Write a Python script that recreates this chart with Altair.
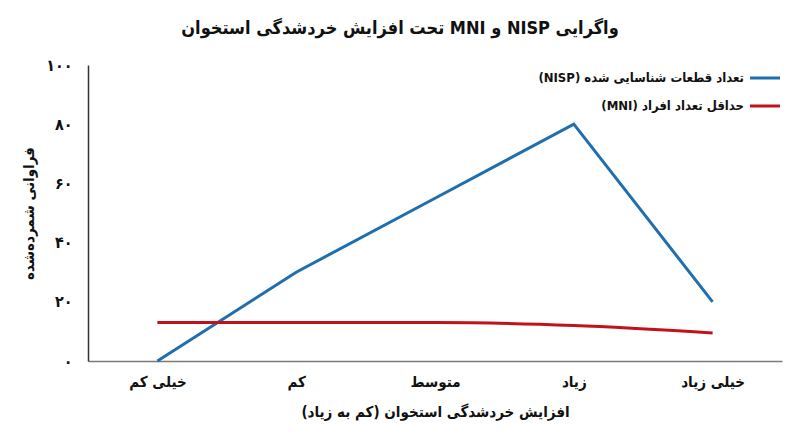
import altair as alt
import pandas as pd

# داده‌ها
categories = ['خیلی کم', 'کم', 'متوسط', 'زیاد', 'خیلی زیاد']
nisp_values = [0, 30, 55, 80, 20]
mni_values = [13, 13, 13, 12, 9.5]
series_names = ['تعداد قطعات شناسایی شده (NISP)', 'حداقل تعداد افراد (MNI)']
series_colors = ['#1f6fae', '#c0121a']
y_ticks = [0, 20, 40, 60, 80, 100]
y_tick_labels = ['۰', '۲۰', '۴۰', '۶۰', '۸۰', '۱۰۰']

FONT = 'DejaVu Sans Condensed'
TEXT_COLOR = '#111111'


def rtl(s):
    # right-to-left embedding so mixed Persian/Latin text reads correctly
    return '\u202b' + s + '\u202c'


df = pd.DataFrame({
    'category': categories * 2,
    'value': nisp_values + mni_values,
    'series': [series_names[0]] * len(categories) + [series_names[1]] * len(categories),
})

label_expr = ' : '.join(
    f"datum.value == {v} ? '{lab}'" for v, lab in zip(y_ticks, y_tick_labels)
) + " : datum.label"

x_enc = alt.X(
    'category:N',
    sort=categories,
    scale=alt.Scale(type='point', padding=0.5),
    title=rtl('افزایش خردشدگی استخوان (کم به زیاد)'),
    axis=alt.Axis(
        labelAngle=0, ticks=False, labelPadding=13, titlePadding=15,
        labelFontSize=15, labelFontWeight='bold', labelFont=FONT, labelColor=TEXT_COLOR,
        titleFontSize=15, titleFontWeight='bold', titleFont=FONT, titleColor=TEXT_COLOR,
        domainColor='#7a7a7a', domainWidth=1.5, grid=False,
    ),
)
y_enc = alt.Y(
    'value:Q',
    scale=alt.Scale(domain=[0, 100], nice=False),
    title='فراوانی شمرده‌شده',
    axis=alt.Axis(
        values=y_ticks, labelExpr=label_expr, ticks=False, labelPadding=16, titlePadding=9,
        labelFontSize=16, labelFontWeight='bold', labelFont=FONT, labelColor=TEXT_COLOR,
        titleFontSize=15, titleFontWeight='bold', titleFont=FONT, titleColor=TEXT_COLOR,
        domainColor='#333333', domainWidth=1.5, grid=False,
    ),
)

nisp_line = alt.Chart(df).transform_filter(
    alt.datum.series == series_names[0]
).mark_line(color=series_colors[0], strokeWidth=3).encode(x=x_enc, y=y_enc)

mni_line = alt.Chart(df).transform_filter(
    alt.datum.series == series_names[1]
).mark_line(color=series_colors[1], strokeWidth=3, interpolate='monotone').encode(x=x_enc, y=y_enc)

# legend drawn by hand: symbol on the right of the label (RTL)
legend_layers = []
for i, (name, col) in enumerate(zip(series_names, series_colors)):
    row_y = 13 + 28 * i
    txt = alt.Chart(pd.DataFrame({'label': [rtl(name)]})).mark_text(
        align='right', baseline='middle', fontSize=13, fontWeight='bold',
        font=FONT, color=TEXT_COLOR,
    ).encode(x=alt.value(656), y=alt.value(row_y), text='label:N')
    sym = alt.Chart(pd.DataFrame({'label': [name]})).mark_rule(
        color=col, strokeWidth=3,
    ).encode(x=alt.value(662), x2=alt.value(692), y=alt.value(row_y))
    legend_layers += [txt, sym]

chart = alt.layer(nisp_line, mni_line, *legend_layers).properties(
    width=694,
    height=296,
    autosize=alt.AutoSizeParams(type='none'),
    padding={'left': 80, 'top': 57, 'right': 10, 'bottom': 78},
    title=alt.TitleParams(
        rtl('واگرایی NISP و MNI تحت افزایش خردشدگی استخوان'),
        fontSize=18, fontWeight='bold', font=FONT, color=TEXT_COLOR,
        anchor='middle', dx=-35, offset=19,
    ),
).configure_view(stroke=None)

chart.save('out.html', embed_options={'renderer': 'svg', 'actions': False})
